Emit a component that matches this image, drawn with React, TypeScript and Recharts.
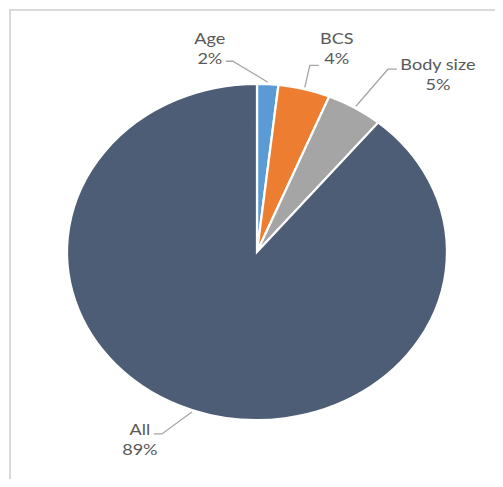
import { PieChart, Pie, Cell } from "recharts"

const categories = ["Age", "BCS", "Body size", "All"]
const shares = [1.8, 4.4, 4.8, 89.0]
const colors = ["#5b9bd5", "#ed7d31", "#a5a5a5", "#4d5d75"]

// label placement (elbow + text) relative to the slice edge point
const labelNudge = [
  { elbow: [-35, -21], stub: -7, text: [-58, -38] },
  { elbow: [5, -22], stub: 9, text: [32, -43] },
  { elbow: [32, -37], stub: 9, text: [82, -36] },
  { elbow: [-30, 22], stub: -8, text: [-52, 23] },
]

const W = 503
const H = 487
const CX = 257
const CY = 252
const R = 168
const SX = 190 / 168 // the picture is stretched sideways

const data = categories.map((name, i) => ({ name, value: shares[i] }))

const RAD = Math.PI / 180
const FONT = "Lato, 'Open Sans', sans-serif"

function renderLabel(props: any) {
  const { cx, cy, midAngle, outerRadius, index, percent, name } = props
  const ex = cx + (outerRadius + 2) * SX * Math.cos(-midAngle * RAD)
  const ey = cy + (outerRadius + 2) * Math.sin(-midAngle * RAD)
  const n = labelNudge[index]
  const bx = ex + n.elbow[0]
  const by = ey + n.elbow[1]
  const tx = ex + n.text[0]
  const ty = ey + n.text[1]
  return (
    <g key={`lbl-${index}`}>
      <polyline
        points={`${ex},${ey} ${bx},${by} ${bx + n.stub},${by}`}
        fill="none"
        stroke="#a6a6a6"
        strokeWidth={1.3}
      />
      <g transform={`translate(${tx},${ty}) scale(${SX},1)`}>
        <text x={0} y={0} textAnchor="middle" fill="#595959" fontSize={16} fontFamily={FONT}>
          {name}
        </text>
        <text x={0} y={20} textAnchor="middle" fill="#595959" fontSize={16} fontFamily={FONT}>
          {`${Math.round(percent * 100)}%`}
        </text>
      </g>
    </g>
  )
}

export default function App() {
  return (
    <div style={{ position: "relative", width: W, height: H, margin: -8, overflow: "hidden", background: "#fff" }}>
      <style>{`.pie-wrap path.recharts-sector { transform: scaleX(${SX}); transform-origin: ${CX}px ${CY}px; }`}</style>
      <div
        style={{
          position: "absolute",
          left: 9,
          top: 9,
          width: 700,
          height: 700,
          border: "2px solid #d9d9d9",
          boxSizing: "border-box",
        }}
      />
      <div className="pie-wrap" style={{ position: "absolute", left: 0, top: 0 }}>
        <PieChart width={W} height={H} margin={{ top: 0, right: 0, bottom: 0, left: 0 }}>
          <Pie
            data={data}
            dataKey="value"
            nameKey="name"
            cx={CX}
            cy={CY}
            outerRadius={R}
            startAngle={90}
            endAngle={-270}
            stroke="#ffffff"
            strokeWidth={2}
            label={renderLabel}
            labelLine={false}
            isAnimationActive={false}
          >
            {data.map((d, i) => (
              <Cell key={d.name} fill={colors[i]} />
            ))}
          </Pie>
        </PieChart>
      </div>
    </div>
  )
}
